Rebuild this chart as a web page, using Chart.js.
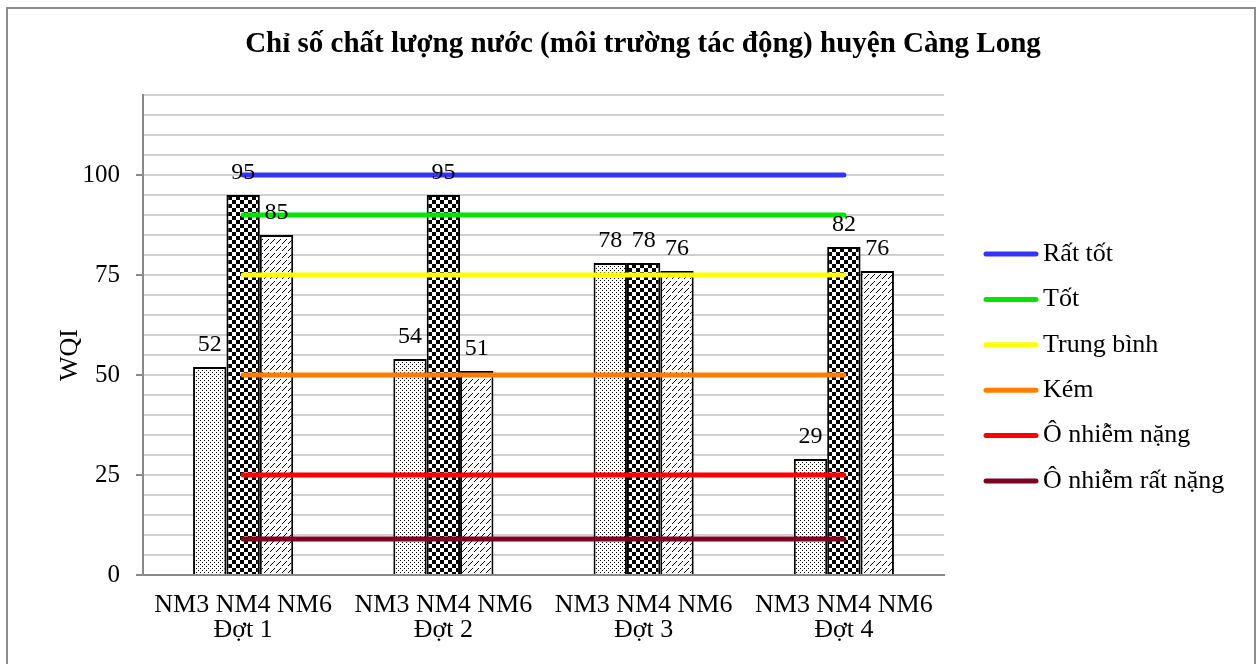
<!DOCTYPE html>
<html lang="vi">
<head>
<meta charset="utf-8">
<title>Chỉ số chất lượng nước huyện Càng Long</title>
<script src="https://cdn.jsdelivr.net/npm/chart.js@4/dist/chart.umd.min.js"></script>
<style>
  body { margin: 0; background: #fff; }
  #wrap { position: relative; width: 1259px; height: 664px; overflow: hidden; }
  #frame {
    position: absolute; left: 6px; top: 7px; width: 1250px; height: 700px;
    box-sizing: border-box; border: 2px solid #8c8c8c; pointer-events: none;
  }
</style>
</head>
<body>
<div id="wrap">
  <canvas id="chart" width="1259" height="664"></canvas>
  <div id="frame"></div>
</div>
<script>
// Đợt quan trắc và các điểm lấy mẫu
const chartTitle = "Chỉ số chất lượng nước (môi trường tác động) huyện Càng Long";
const yTitle = "WQI";
const dotLabels = ["Đợt 1", "Đợt 2", "Đợt 3", "Đợt 4"];
const stations = ["NM3", "NM4", "NM6"];

// WQI của từng điểm theo đợt
const nm3Values = [52, 54, 78, 29];
const nm4Values = [95, 95, 78, 82];
const nm6Values = [85, 51, 76, 76];

// Ngưỡng phân loại WQI
const levelNames = ["Rất tốt", "Tốt", "Trung bình", "Kém", "Ô nhiễm nặng", "Ô nhiễm rất nặng"];
const levelValues = [100, 90, 75, 50, 25, 9];
const levelColors = ["#3333ff", "#00e400", "#ffff00", "#ff7e00", "#ff0000", "#7e0023"];

// Trục tung
const yMax = 120;
const yStep = 5;
const yLabelStep = 25;
const yLabelMax = 100;

const fontFamily = "'Liberation Serif', 'Times New Roman', serif";
const axisGray = "#898989";

// black & white fills for the three stations
function makePattern(kind) {
  const c = document.createElement("canvas");
  const g = c.getContext("2d");
  if (kind === "dots") {
    c.width = 4; c.height = 4;
    g.fillStyle = "#fff"; g.fillRect(0, 0, 4, 4);
    g.fillStyle = "#000";
    g.fillRect(0, 0, 1, 1);
    g.fillRect(2, 2, 1, 1);
  } else if (kind === "checker") {
    c.width = 8; c.height = 8;
    g.fillStyle = "#fff"; g.fillRect(0, 0, 8, 8);
    g.fillStyle = "#000";
    g.fillRect(0, 0, 4, 4);
    g.fillRect(4, 4, 4, 4);
  } else {
    c.width = 6; c.height = 7;
    g.fillStyle = "#fff"; g.fillRect(0, 0, 6, 7);
    g.fillStyle = "#000";
    g.fillRect(0, 5, 1, 1);
    g.fillRect(1, 4, 1, 1);
    g.fillRect(2, 3, 1, 1);
    g.fillRect(3, 2, 1, 1);
    g.fillRect(4, 1, 1, 1);
  }
  return g.createPattern(c, "repeat");
}

const patterns = [makePattern("dots"), makePattern("checker"), makePattern("hatch")];
const stationValues = [nm3Values, nm4Values, nm6Values];

const barDatasets = stations.map((name, i) => ({
  type: "bar",
  label: name,
  data: stationValues[i],
  backgroundColor: patterns[i],
  borderColor: "#000",
  borderWidth: 2,
  categoryPercentage: 0.5,
  barPercentage: 1,
  order: 2,
}));

const lineDatasets = levelNames.map((name, i) => ({
  type: "line",
  label: name,
  data: dotLabels.map(() => levelValues[i]),
  borderColor: levelColors[i],
  backgroundColor: levelColors[i],
  borderWidth: 5,
  borderCapStyle: "round",
  pointRadius: 0,
  order: 1,
}));

// value above each bar
const valueLabels = {
  id: "valueLabels",
  afterDatasetsDraw(chart) {
    const { ctx } = chart;
    ctx.save();
    ctx.font = "24px " + fontFamily;
    ctx.fillStyle = "#000";
    ctx.textAlign = "center";
    ctx.textBaseline = "alphabetic";
    chart.data.datasets.forEach((ds, i) => {
      if (ds.type !== "bar") return;
      chart.getDatasetMeta(i).data.forEach((bar, j) => {
        ctx.fillText(ds.data[j], bar.x, bar.y - 16);
      });
    });
    ctx.restore();
  },
};

// chart title, axis title and the threshold legend on the right
const titleAndLegend = {
  id: "titleAndLegend",
  afterDraw(chart) {
    const { ctx } = chart;
    ctx.save();
    ctx.fillStyle = "#000";
    ctx.textAlign = "center";
    ctx.textBaseline = "middle";
    ctx.font = "bold 29px " + fontFamily;
    ctx.fillText(chartTitle, 643, 45);

    ctx.save();
    ctx.translate(70, 355);
    ctx.rotate(-Math.PI / 2);
    ctx.font = "26px " + fontFamily;
    ctx.fillText(yTitle, 0, 0);
    ctx.restore();

    ctx.font = "26px " + fontFamily;
    ctx.textAlign = "left";
    ctx.lineWidth = 5;
    ctx.lineCap = "round";
    let y = 254;
    chart.data.datasets.forEach((ds) => {
      if (ds.type !== "line") return;
      ctx.strokeStyle = ds.borderColor;
      ctx.beginPath();
      ctx.moveTo(986, y);
      ctx.lineTo(1036, y);
      ctx.stroke();
      ctx.fillText(ds.label, 1043, y);
      y += 45.4;
    });
    ctx.restore();
  },
};

new Chart(document.getElementById("chart"), {
  data: {
    labels: dotLabels.map((d) => [stations.join(" "), d]),
    datasets: [...lineDatasets, ...barDatasets],
  },
  options: {
    responsive: false,
    animation: false,
    layout: { padding: { top: 95, right: 315, bottom: 0, left: 0 } },
    plugins: {
      legend: { display: false },
      title: { display: false },
      tooltip: { enabled: false },
    },
    scales: {
      x: {
        grid: { display: false, drawTicks: false },
        border: { display: true, color: axisGray, width: 2 },
        ticks: {
          color: "#000",
          font: { family: fontFamily, size: 26, lineHeight: 0.96 },
          padding: 18,
          maxRotation: 0,
          autoSkip: false,
        },
        afterFit: (scale) => { scale.height = 89; },
      },
      y: {
        min: 0,
        max: yMax,
        grid: {
          color: (c) => (c.tick.value === 0 ? axisGray : "#d0d0d0"),
          lineWidth: 2,
          tickLength: 7,
          tickWidth: 2,
          tickColor: (c) => (c.tick.value % yLabelStep === 0 ? axisGray : "rgba(0,0,0,0)"),
        },
        border: { color: axisGray, width: 2 },
        ticks: {
          stepSize: yStep,
          autoSkip: false,
          padding: 16,
          color: "#000",
          font: { family: fontFamily, size: 25 },
          callback: (v) => (v % yLabelStep === 0 && v <= yLabelMax ? v : ""),
        },
        afterFit: (scale) => { scale.width = 143; },
      },
    },
  },
  plugins: [valueLabels, titleAndLegend],
});
</script>
</body>
</html>
